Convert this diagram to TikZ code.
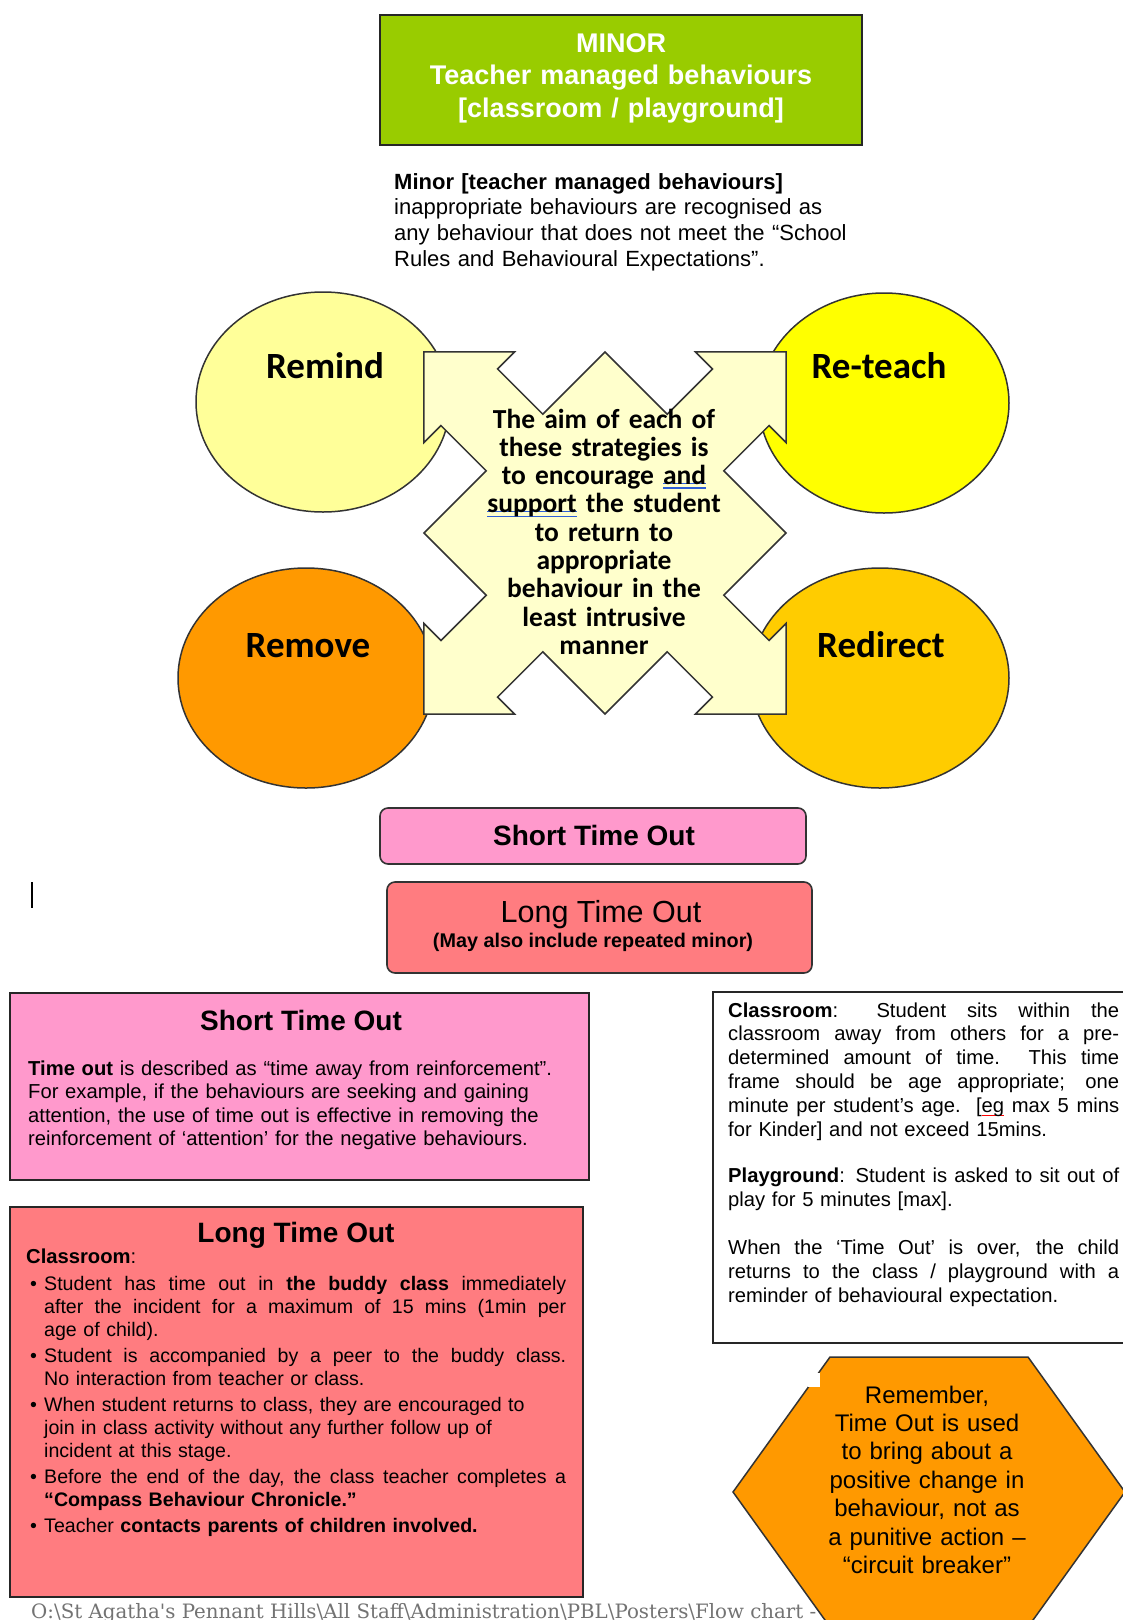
\documentclass[tikz,border=0pt]{standalone}
\usepackage{fontspec}
\setmainfont{Liberation Sans}
\newfontfamily\condfont{Carlito}
\newfontfamily\pathfont{DejaVu Serif}

\definecolor{minorgreen}{HTML}{99CC00}
\definecolor{remindyellow}{HTML}{FFFF99}
\definecolor{reteachyellow}{HTML}{FFFF00}
\definecolor{removeorange}{HTML}{FF9900}
\definecolor{redirectgold}{HTML}{FFCC00}
\definecolor{aimcream}{HTML}{FFFFCC}
\definecolor{shortpink}{HTML}{FF99CC}
\definecolor{longsalmon}{HTML}{FF7C80}
\definecolor{gramblue}{HTML}{2E5FD8}

\newcommand{\fsz}[2]{\fontsize{#1}{#2}\selectfont}
\newcommand{\fillline}[2]{\makebox[#1][s]{\spaceskip=0pt\xspaceskip=0pt #2}}
\newcommand{\bulmark}{\makebox[14pt][l]{\textbullet}}
\newcommand{\bulgap}{\hspace*{14pt}}
\newcommand{\grammark}[1]{\leavevmode\setbox0=\hbox{#1}\rlap{\textcolor{gramblue}{\rule[0.5pt]{\wd0}{1.2pt}}}\rlap{\textcolor{gramblue}{\rule[-4pt]{\wd0}{1.2pt}}}\box0\relax}
\newcommand{\spellmark}[1]{\leavevmode\setbox0=\hbox{#1}\rlap{\textcolor{red}{\rule[-4pt]{\wd0}{1.2pt}}}\box0\relax}

\begin{document}
\begin{tikzpicture}[x=1pt, y=-1pt,
  panel/.style={draw=black!85, line width=2pt, inner sep=0pt},
  pill/.style={draw=black!80, line width=1.6pt, rounded corners=8pt, inner sep=0pt},
  strategy/.style={draw=black!80, line width=1.5pt},
  strategylabel/.style={anchor=base, inner sep=0pt, font=\condfont\bfseries\fsz{37}{40}},
  bodytext/.style={anchor=base west, inner sep=0pt, align=left, font=\fsz{20.2}{23.6}},
  heading/.style={anchor=base, inner sep=0pt, font=\bfseries\fsz{28}{32}}]

  % page
  \useasboundingbox (0,0) rectangle (1123,1620);
  \fill[white] (0,0) rectangle (1123,1620);
  \clip (0,0) rectangle (1123,1620);

  % title box
  \node[panel, fill=minorgreen, minimum width=482pt, minimum height=130pt] (minor) at (621,80) {};
  \node[anchor=base, inner sep=0pt, text width=470pt, align=center, text=white,
        font=\bfseries\fsz{27}{32.5}] (minortitle) at (621,52)
    {MINOR\\Teacher managed behaviours\\{[classroom / playground]}};

  % introduction
  \node[bodytext, text width=520pt, font=\fsz{22}{25.7}] (intro) at (394,189)
    {\textbf{Minor [teacher managed behaviours]}\\
     inappropriate behaviours are recognised as\\
     any behaviour that does not meet the “School\\
     Rules and Behavioural Expectations”.};

  % centres of the strategies
  \coordinate (remindc) at (323,402);
  \coordinate (reteachc) at (884,403);
  \coordinate (removec) at (306,678);
  \coordinate (redirectc) at (880,678);

  % ellipses
  \draw[strategy, fill=remindyellow] (remindc) ellipse [x radius=127, y radius=110];
  \draw[strategy, fill=reteachyellow] (reteachc) ellipse [x radius=125, y radius=110];
  \draw[strategy, fill=removeorange] (removec) ellipse [x radius=128, y radius=110];
  \draw[strategy, fill=redirectgold] (redirectc) ellipse [x radius=129, y radius=110];

  % labels
  \node[strategylabel] (remind) at (325,378) {Remind};
  \node[strategylabel] (reteach) at (879,378) {Re-teach};
  \node[strategylabel] (remove) at (308,657) {Remove};
  \node[strategylabel] (redirect) at (881,657) {Redirect};

  % four-way arrow
  \begin{scope}[shift={(605,533)}, rotate=45]
    \draw[strategy, fill=aimcream]
      (128,-40) -- (192,-40) -- (192,-64) -- (256,0) -- (192,64) -- (192,40) -- (128,40) -- (128,128)
      -- (40,128) -- (40,192) -- (64,192) -- (0,256) -- (-64,192) -- (-40,192) -- (-40,128) -- (-128,128)
      -- (-128,40) -- (-192,40) -- (-192,64) -- (-256,0) -- (-192,-64) -- (-192,-40) -- (-128,-40) -- (-128,-128)
      -- (-40,-128) -- (-40,-192) -- (-64,-192) -- (0,-256) -- (64,-192) -- (40,-192) -- (40,-128) -- (128,-128) -- cycle;
  \end{scope}
  \node[anchor=base, inner sep=0pt, text width=280pt, align=center,
        font=\condfont\bfseries\fsz{27.5}{28.3}] (aim) at (604,428)
    {The aim of each of\\these strategies is\\to encourage \grammark{and}\\\grammark{support} the student\\
     to return to\\appropriate\\behaviour in the\\least intrusive\\manner};

  % time out pills
  \node[pill, fill=shortpink, minimum width=426pt, minimum height=56pt] (shortpill) at (593,836) {};
  \node[heading] (shortpilltext) at (594,845) {Short Time Out};
  \node[pill, fill=longsalmon, minimum width=425pt, minimum height=91pt] (longpill) at (599.5,927.5) {};
  \node[heading, font=\fsz{30.5}{32}] (longpilltext) at (601,922) {Long Time Out};
  \node[heading, font=\bfseries\fsz{19.8}{20}] (longpillnote) at (593,947) {(May also include repeated minor)};

  % cursor
  \coordinate (cursor) at (32,882);
  \draw[line width=2pt] (cursor) -- ++(0,26);

  % short time out panel
  \node[panel, fill=shortpink, minimum width=579pt, minimum height=187pt] (shortpanel) at (299.5,1086.5) {};
  \node[heading] (shorthead) at (301,1030) {Short Time Out};
  \node[bodytext, text width=550pt] (shortbody) at (28,1075)
    {\textbf{Time out} is described as “time away from reinforcement”.\\
     For example, if the behaviours are seeking and gaining\\
     attention, the use of time out is effective in removing the\\
     reinforcement of ‘attention’ for the negative behaviours.};

  % time out details
  \node[panel, fill=white, minimum width=440pt, minimum height=351pt] (detailpanel) at (933,1167.5) {};
  \node[bodytext, text width=395pt, font=\fsz{20.2}{23.8}] (details) at (728,1017)
    {\fillline{391pt}{\textbf{Classroom}: Student sits within the}\\
     \fillline{391pt}{classroom away from others for a pre-}\\
     \fillline{391pt}{determined amount of time.\ \ This time}\\
     \fillline{391pt}{frame should be age appropriate; one}\\
     \fillline{391pt}{minute per student’s age.\ \ [\spellmark{eg} max 5 mins}\\
     for Kinder] and not exceed 15mins.\\[22.5pt]
     \fillline{391pt}{\textbf{Playground}: Student is asked to sit out of}\\
     play for 5 minutes [max].\\[25pt]
     \fillline{391pt}{When the ‘Time Out’ is over, the child}\\
     \fillline{391pt}{returns to the class / playground with a}\\
     reminder of behavioural expectation.};

  % long time out panel
  \node[panel, fill=longsalmon, minimum width=573pt, minimum height=390pt] (longpanel) at (296.5,1402) {};
  \node[heading] (longhead) at (296,1242) {Long Time Out};
  \node[bodytext] (classroom) at (26,1263) {\textbf{Classroom}:};
  \node[bodytext, text width=545pt, font=\fsz{19.6}{23}] (steps) at (30,1290)
    {\bulmark\fillline{522pt}{Student has time out in \textbf{the buddy class} immediately}\\
     \bulgap\fillline{522pt}{after the incident for a maximum of 15 mins (1min per}\\
     \bulgap age of child).\\[3pt]
     \bulmark\fillline{522pt}{Student is accompanied by a peer to the buddy class.}\\
     \bulgap No interaction from teacher or class.\\[3pt]
     \bulmark When student returns to class, they are encouraged to\\
     \bulgap join in class activity without any further follow up of\\
     \bulgap incident at this stage.\\[3pt]
     \bulmark\fillline{522pt}{Before the end of the day, the class teacher completes a}\\
     \bulgap\textbf{“Compass Behaviour Chronicle.”}\\[3pt]
     \bulmark Teacher \textbf{contacts parents of children involved.}};

  % file path
  \node[anchor=base west, inner sep=0pt, text=black!55, font=\pathfont\fsz{19.8}{21}] (filepath) at (31,1618)
    {O:\textbackslash St Agatha's Pennant Hills\textbackslash All Staff\textbackslash Administration\textbackslash PBL\textbackslash Posters\textbackslash Flow chart -};

  % reminder hexagon
  \draw[strategy, fill=removeorange] (733,1492) -- (830,1357) -- (1028,1357) -- (1125,1492) -- (1028,1627) -- (830,1627) -- cycle;
  \fill[white] (808,1373) rectangle (820,1387);
  \node[anchor=base, inner sep=0pt, text width=250pt, align=center, font=\fsz{24}{28.4}] (remember) at (927,1403)
    {Remember,\\Time Out is used\\to bring about a\\positive change in\\behaviour, not as\\a punitive action –\\“circuit breaker”};
\end{tikzpicture}
\end{document}
